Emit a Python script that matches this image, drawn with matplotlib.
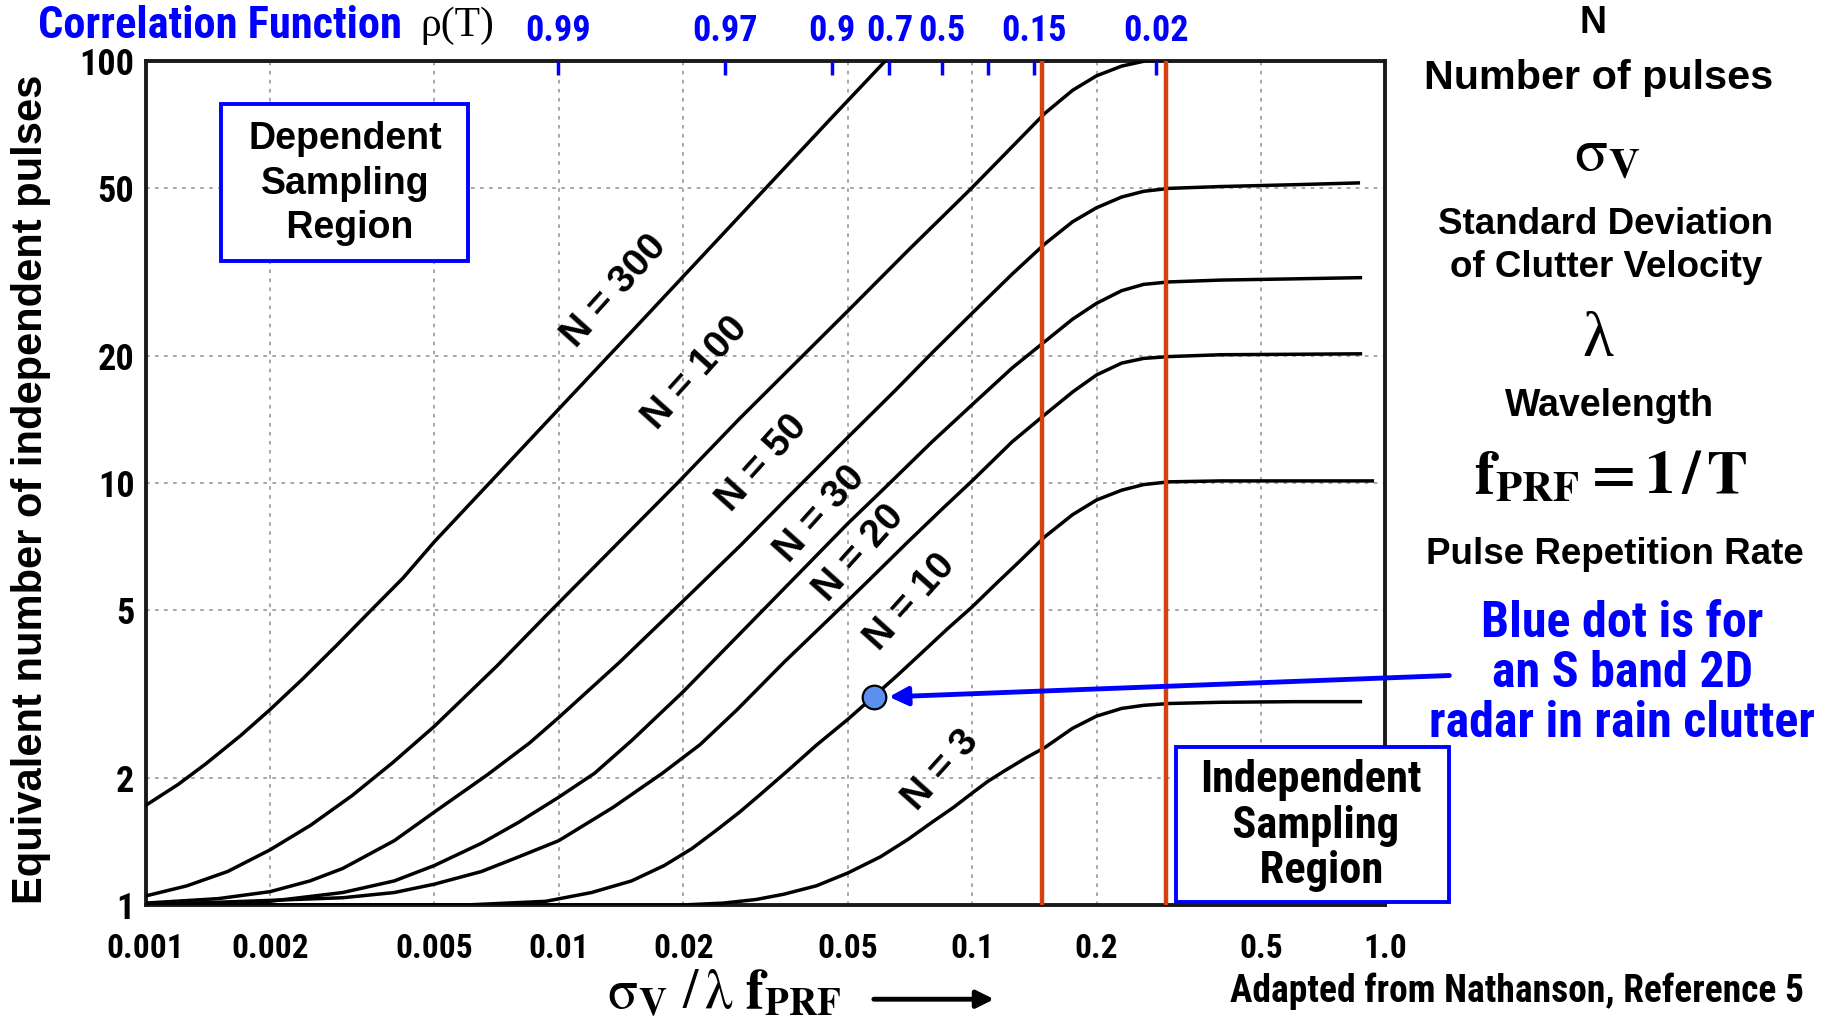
import matplotlib
matplotlib.use("Agg")
import matplotlib.pyplot as plt
from matplotlib.patches import Rectangle, FancyArrowPatch
from matplotlib.ticker import NullLocator

# fonts (narrow faces first if present, else Liberation Sans)
sans = "Liberation Sans"
narrow = ["Liberation Sans Narrow", "Roboto Condensed", "DejaVu Sans Condensed", "Liberation Sans"]
serif = "Liberation Serif"
plt.rcParams["mathtext.fontset"] = "stix"

# curves (x = sigma_v / lambda f_prf, y = equivalent pulses)
n300_x = [0.001, 0.0012, 0.0014, 0.0017, 0.002, 0.0024, 0.0029, 0.0035, 0.0042, 0.005, 0.007, 0.01, 0.015, 0.02, 0.03, 0.045, 0.0618, 0.07]
n300_y = [1.72, 1.93, 2.16, 2.52, 2.9, 3.43, 4.12, 4.97, 5.95, 7.25, 10.3, 14.95, 22.8, 30.8, 47.1, 72, 100, 113.5]

n100_x = [0.001, 0.00126, 0.00158, 0.002, 0.00251, 0.00316, 0.00398, 0.005, 0.00708, 0.0095, 0.0194, 0.0274, 0.05, 0.07, 0.1, 0.12, 0.15, 0.175, 0.2, 0.23, 0.265, 0.3]
n100_y = [1.05, 1.11, 1.2, 1.35, 1.545, 1.815, 2.18, 2.65, 3.68, 4.94, 10, 14.2, 25.5, 35.5, 50, 60, 75, 85, 92, 97, 100, 100.3]

n50_x = [0.001, 0.0015, 0.002, 0.0025, 0.003, 0.004, 0.005, 0.0067, 0.0085, 0.01, 0.014, 0.019, 0.0275, 0.0357, 0.05, 0.065, 0.08, 0.1, 0.125, 0.15, 0.175, 0.2, 0.23, 0.26, 0.3, 0.4, 0.6, 0.86]
n50_y = [1.01, 1.035, 1.075, 1.14, 1.22, 1.42, 1.66, 2.03, 2.42, 2.78, 3.75, 5.0, 7.1, 9.2, 12.8, 16.5, 20.3, 25.2, 31.2, 36.8, 41.5, 44.8, 47.5, 49.0, 49.8, 50.3, 50.8, 51.3]

n30_x = [0.001, 0.002, 0.003, 0.004, 0.005, 0.0065, 0.008, 0.01, 0.0122, 0.015, 0.02, 0.025, 0.03, 0.04, 0.05, 0.062, 0.08, 0.1, 0.125, 0.15, 0.175, 0.2, 0.23, 0.26, 0.3, 0.4, 0.6, 0.87]
n30_y = [1.0, 1.02, 1.07, 1.14, 1.24, 1.4, 1.57, 1.8, 2.05, 2.45, 3.2, 4.0, 4.8, 6.4, 8.0, 9.8, 12.5, 15.3, 18.7, 21.6, 24.4, 26.6, 28.5, 29.5, 29.9, 30.2, 30.4, 30.6]

n20_x = [0.001, 0.003, 0.004, 0.005, 0.0065, 0.008, 0.01, 0.0135, 0.0178, 0.022, 0.027, 0.035, 0.045, 0.055, 0.07, 0.085, 0.1, 0.125, 0.15, 0.175, 0.2, 0.23, 0.26, 0.3, 0.4, 0.6, 0.87]
n20_y = [1.0, 1.04, 1.07, 1.12, 1.2, 1.3, 1.42, 1.7, 2.05, 2.4, 2.9, 3.75, 4.75, 5.75, 7.25, 8.7, 10.1, 12.5, 14.5, 16.4, 18.0, 19.2, 19.7, 19.9, 20.1, 20.15, 20.2]

n10_x = [0.001, 0.006, 0.0093, 0.012, 0.015, 0.018, 0.021, 0.024, 0.0274, 0.031, 0.036, 0.042, 0.05, 0.057, 0.066, 0.075, 0.087, 0.1, 0.115, 0.13, 0.15, 0.175, 0.2, 0.23, 0.26, 0.3, 0.4, 0.6, 0.93]
n10_y = [1.0, 1.0, 1.02, 1.07, 1.14, 1.24, 1.36, 1.5, 1.66, 1.84, 2.09, 2.39, 2.75, 3.08, 3.5, 3.93, 4.5, 5.08, 5.8, 6.5, 7.45, 8.4, 9.1, 9.6, 9.9, 10.05, 10.1, 10.1, 10.1]

n3_x = [0.001, 0.02, 0.025, 0.03, 0.035, 0.042, 0.05, 0.06, 0.07, 0.08, 0.09, 0.1, 0.109, 0.12, 0.135, 0.15, 0.175, 0.2, 0.23, 0.26, 0.3, 0.4, 0.6, 0.87]
n3_y = [1.0, 1.0, 1.01, 1.03, 1.06, 1.11, 1.19, 1.3, 1.43, 1.57, 1.7, 1.84, 1.96, 2.08, 2.23, 2.36, 2.62, 2.8, 2.92, 2.97, 3.0, 3.02, 3.03, 3.03]

curves = [(n300_x, n300_y), (n100_x, n100_y), (n50_x, n50_y), (n30_x, n30_y),
          (n20_x, n20_y), (n10_x, n10_y), (n3_x, n3_y)]

# curve labels: text, x, y
curve_labels = ["N = 300", "N = 100", "N = 50", "N = 30", "N = 20", "N = 10", "N = 3"]
label_x = [0.0136, 0.0214, 0.0311, 0.043, 0.0533, 0.071, 0.084]
label_y = [28.4, 18.2, 11.1, 8.4, 6.8, 5.2, 2.08]

# correlation function scale on top
rho_pos = [0.00995, 0.0252, 0.0458, 0.0631, 0.0844, 0.1095, 0.141, 0.278]
rho_lab = ["0.99", "0.97", "0.9", "0.7", "0.5", "", "0.15", "0.02"]

x_ticks = [0.001, 0.002, 0.005, 0.01, 0.02, 0.05, 0.1, 0.2, 0.5, 1.0]
x_tick_lab = ["0.001", "0.002", "0.005", "0.01", "0.02", "0.05", "0.1", "0.2", "0.5", "1.0"]
y_ticks = [1, 2, 5, 10, 20, 50, 100]

red_lines = [0.148, 0.295]
dot_x, dot_y = 0.0578, 3.1

fig = plt.figure(figsize=(18.26, 10.26), dpi=100)
ax = fig.add_axes([0.0797, 0.118, 0.679, 0.823])
ax.set_xscale("log")
ax.set_yscale("log")
ax.set_xlim(0.001, 1.0)
ax.set_ylim(1, 100)

ax.set_xticks(x_ticks)
ax.set_xticklabels(x_tick_lab)
ax.set_yticks(y_ticks)
ax.set_yticklabels([str(v) for v in y_ticks])
ax.xaxis.set_minor_locator(NullLocator())
ax.yaxis.set_minor_locator(NullLocator())
ax.tick_params(axis="x", length=0, pad=20)
ax.tick_params(axis="y", length=0, pad=8)
for lab in ax.get_xticklabels():
    lab.set_fontfamily(narrow)
    lab.set_fontweight("bold")
    lab.set_fontsize(24)
for lab in ax.get_yticklabels():
    lab.set_fontfamily(narrow)
    lab.set_fontweight("bold")
    lab.set_fontsize(26)

ax.grid(True, which="major", color="#a0a0a0", lw=1.3, ls=(0, (2, 3)))
for s in ax.spines.values():
    s.set_linewidth(2.8)
    s.set_color("#1a1a1a")

for cx, cy in curves:
    ax.plot(cx, cy, color="black", lw=2.5, solid_joinstyle="round", zorder=3)

for t, lx, ly in zip(curve_labels, label_x, label_y):
    ax.text(lx, ly, t, rotation=48, ha="center", va="center", rotation_mode="anchor",
            fontsize=28, fontweight="bold", fontfamily=sans, zorder=4)

for rx in red_lines:
    ax.axvline(rx, color="#d6400e", lw=3.2, zorder=4)

# top correlation axis
ax2 = ax.twiny()
ax2.set_xscale("log")
ax2.set_xlim(ax.get_xlim())
ax2.set_xticks(rho_pos)
ax2.set_xticklabels(rho_lab)
ax2.xaxis.set_minor_locator(NullLocator())
ax2.tick_params(axis="x", direction="in", length=10, width=2.5, color="blue",
                labelcolor="blue", pad=8)
for lab in ax2.get_xticklabels():
    lab.set_fontfamily(narrow)
    lab.set_fontweight("bold")
    lab.set_fontsize(26)
for s in ax2.spines.values():
    s.set_visible(False)

# boxes
ax.add_patch(Rectangle((0.061, 0.763), 0.199, 0.186, transform=ax.transAxes,
                       facecolor="white", edgecolor="blue", lw=2.8, zorder=6))
ax.text(0.161, 0.854, "Dependent\nSampling\n Region", transform=ax.transAxes,
        ha="center", va="center", fontsize=27, fontweight="bold", fontfamily=sans,
        linespacing=1.3, zorder=7)
ax.add_patch(Rectangle((0.831, 0.003), 0.2206, 0.1846, transform=ax.transAxes,
                       facecolor="white", edgecolor="blue", lw=2.8, zorder=6, clip_on=False))
ax.text(0.94, 0.094, "Independent\n Sampling\n  Region", transform=ax.transAxes,
        ha="center", va="center", fontsize=32, fontweight="bold", fontfamily=narrow,
        linespacing=1.1, zorder=7, clip_on=False)

# blue dot and arrow
ax.plot(dot_x, dot_y, "o", ms=17, mfc="#5b8ff0", mec="black", mew=1.6, zorder=8)
ax.annotate("", xy=(dot_x, dot_y), xycoords="data", xytext=(1.0516, 0.2717),
            textcoords="axes fraction",
            arrowprops=dict(arrowstyle="-|>", color="blue", lw=3.5, mutation_scale=28,
                            shrinkB=11, shrinkA=0), zorder=8)

# axis labels
fig.text(27 / 1568, 1 - 420 / 881, "Equivalent number of independent pulses", rotation=90,
         ha="center", va="center", fontsize=30, fontweight="bold", fontfamily=sans)
fig.text(622 / 1568, 1 - 853 / 881,
         r"$\mathrm{\sigma}_{\mathbf{V}}\ /\,\mathrm{\lambda}\ \mathbf{f}_{\mathbf{PRF}}$",
         ha="center", va="center", fontsize=40)
fig.patches.append(FancyArrowPatch(
    (748 / 1568, 1 - 858 / 881), (856 / 1568, 1 - 858 / 881), transform=fig.transFigure,
    arrowstyle="-|>", mutation_scale=26, lw=3.5, color="black"))

# top header
fig.text(33 / 1568, 1 - 22 / 881, "Correlation Function", ha="left", va="center",
         color="blue", fontsize=32, fontweight="bold", fontfamily=narrow)
fig.text(393 / 1568, 1 - 22 / 881, "ρ(T)", ha="center", va="center",
         fontsize=30, fontfamily=serif)

# right side legend text
fig.text(1368 / 1568, 1 - 20 / 881, "N", ha="center", va="center",
         fontsize=27, fontweight="bold", fontfamily=sans)
fig.text(1373 / 1568, 1 - 67 / 881, "Number of pulses", ha="center", va="center",
         fontsize=29.8, fontweight="bold", fontfamily=sans)
fig.text(1380 / 1568, 1 - 132 / 881, r"$\mathrm{\sigma}_{\mathbf{V}}$", ha="center",
         va="center", fontsize=44)
fig.text(1379 / 1568, 1 - 211 / 881, "Standard Deviation\nof Clutter Velocity",
         ha="center", va="center", fontsize=26.5, fontweight="bold", fontfamily=sans,
         linespacing=1.3)
fig.text(1372 / 1568, 1 - 293 / 881, "λ", ha="center", va="center",
         fontsize=46, fontfamily=serif)
fig.text(1382 / 1568, 1 - 349 / 881, "Wavelength", ha="center", va="center",
         fontsize=27, fontweight="bold", fontfamily=sans)
fig.text(1383 / 1568, 1 - 410 / 881, r"$\mathbf{f}_{\mathbf{PRF}}\mathbf{=1\,/\,T}$",
         ha="center", va="center", fontsize=44)
fig.text(1387 / 1568, 1 - 476 / 881, "Pulse Repetition Rate", ha="center", va="center",
         fontsize=26.5, fontweight="bold", fontfamily=sans)
fig.text(1393 / 1568, 1 - 578 / 881, "Blue dot is for\nan S band 2D\nradar in rain clutter",
         ha="center", va="center", color="blue", fontsize=36, fontweight="bold",
         fontfamily=narrow, linespacing=1.08)
fig.text(1303 / 1568, 1 - 851 / 881, "Adapted from Nathanson, Reference 5",
         ha="center", va="center", fontsize=27, fontweight="bold", fontfamily=narrow)

fig.savefig("out.png", dpi=100)
